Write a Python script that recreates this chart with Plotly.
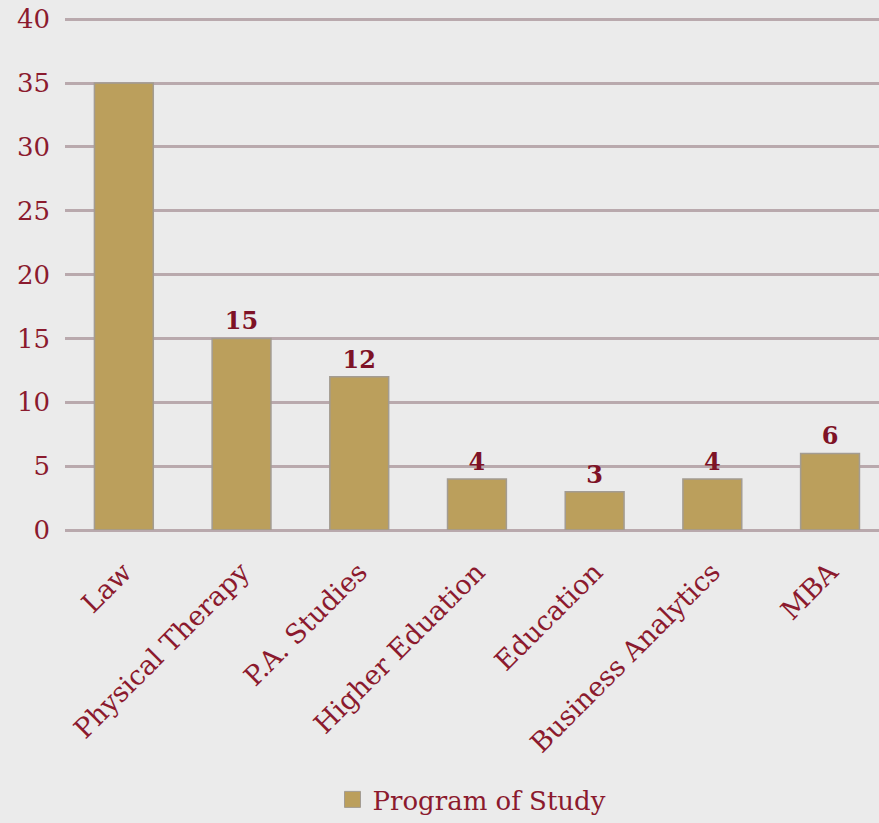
import plotly.graph_objects as go

categories = ["Law", "Physical Therapy", "P.A. Studies", "Higher Eduation", "Education", "Business Analytics", "MBA"]
values = [35, 15, 12, 4, 3, 4, 6]
labels = ["", "15", "12", "4", "3", "4", "6"]
y_ticks = [0, 5, 10, 15, 20, 25, 30, 35, 40]
series_name = "Program of Study"

FONT = "DejaVu Serif"
TXT = "#8b1a2e"
BAR = "#bb9f5c"

fig = go.Figure()
fig.add_trace(go.Bar(
    x=categories, y=values, name=series_name, showlegend=False,
    text=labels, textposition="outside", cliponaxis=False,
    textfont=dict(family=FONT, size=24, color="#7e1226", weight="bold"),
    marker=dict(color=BAR, line=dict(color="#a39c92", width=1.5)),
    width=0.5,
))
fig.add_trace(go.Scatter(
    x=[None], y=[None], mode="markers", name=series_name, showlegend=True,
    marker=dict(symbol="square", size=18, color=BAR, line=dict(color="#a39c92", width=1)),
))
fig.update_layout(
    width=879, height=823,
    margin=dict(l=65, r=0, t=18, b=291),
    paper_bgcolor="#ebebeb", plot_bgcolor="#ebebeb",
    font=dict(family=FONT, color=TXT, size=22),
    showlegend=True,
    legend=dict(orientation="h", x=0.5, xanchor="center", y=-0.527, yanchor="middle",
                font=dict(family=FONT, size=26, color=TXT), itemsizing="trace", itemwidth=30),
)
fig.update_xaxes(range=[-0.5, 6.416], tickangle=-45, showline=False, ticks="",
                 tickfont=dict(family=FONT, size=27, color=TXT), showgrid=False,
                 ticklabelstandoff=20)
fig.update_yaxes(range=[0, 40.1], tickvals=y_ticks, showgrid=True, gridcolor="#b9a9ad", gridwidth=2.5,
                 zeroline=True, zerolinecolor="#b9a9ad", zerolinewidth=2.5,
                 tickfont=dict(family=FONT, size=26, color=TXT), ticks="", ticklabelstandoff=14)
fig.write_html("out.html", config={"displayModeBar": False},
               post_script="document.body.style.margin='0';document.body.style.overflow='hidden';")
